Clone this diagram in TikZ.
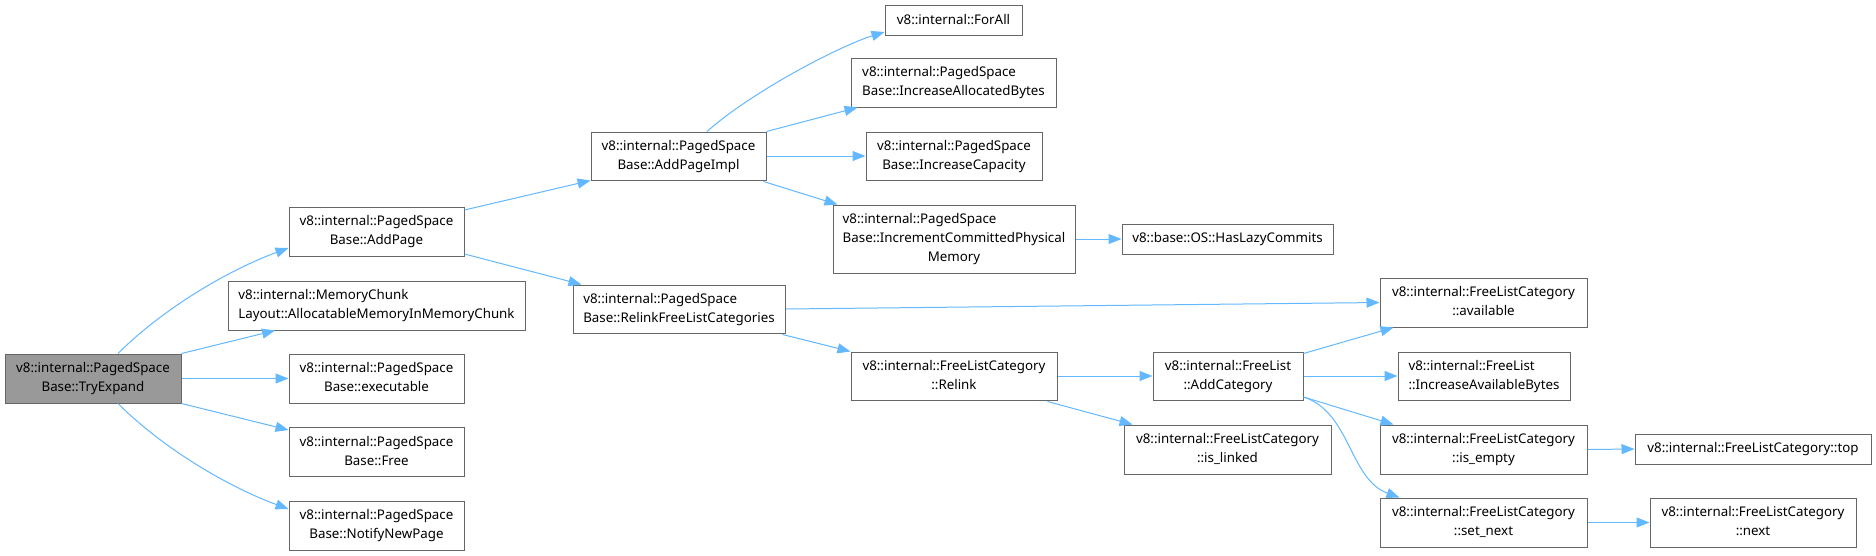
\documentclass[tikz,border=0pt]{standalone}
\usepackage{fontspec}
\setmainfont{Noto Sans}
\usetikzlibrary{arrows.meta,calc}
\definecolor{edgeblue}{HTML}{63B8FF}
\definecolor{boxborder}{HTML}{666666}
\definecolor{rootfill}{HTML}{999999}
\newcommand\lbl[2]{\begin{tabular}{@{}l@{}}#1\\\multicolumn{1}{@{}c@{}}{#2}\end{tabular}}
\tikzset{
  fn/.style={draw=boxborder, line width=1pt, fill=white, rectangle, inner sep=0pt,
    font=\fontsize{13.33}{19}\selectfont, text=black},
  rootfn/.style={fn, fill=rootfill},
  edge/.style={draw=edgeblue, line width=1pt, -{Triangle[length=13pt,width=10pt]}},
}
\begin{document}
\begin{tikzpicture}[x=1pt,y=-1pt]
\useasboundingbox[fill=white] (0,0) rectangle (1876,555);
% nodes
\node[rootfn, minimum width=176, minimum height=49] (te) at (93,378.5) {\lbl{v8::internal::PagedSpace}{Base::TryExpand}};
\node[fn, minimum width=175, minimum height=49] (ap) at (376.5,231.5) {\lbl{v8::internal::PagedSpace}{Base::AddPage}};
\node[fn, minimum width=297, minimum height=49] (mc) at (376.5,305.5) {\lbl{v8::internal::MemoryChunk}{Layout::AllocatableMemoryInMemoryChunk}};
\node[fn, minimum width=175, minimum height=49] (ex) at (376.5,378.5) {\lbl{v8::internal::PagedSpace}{Base::executable}};
\node[fn, minimum width=175, minimum height=49] (fr) at (376.5,452) {\lbl{v8::internal::PagedSpace}{Base::Free}};
\node[fn, minimum width=175, minimum height=49] (nn) at (376.5,525.5) {\lbl{v8::internal::PagedSpace}{Base::NotifyNewPage}};
\node[fn, minimum width=175, minimum height=48] (api) at (678.5,156) {\lbl{v8::internal::PagedSpace}{Base::AddPageImpl}};
\node[fn, minimum width=212, minimum height=48] (rfl) at (679,309) {\lbl{v8::internal::PagedSpace}{Base::RelinkFreeListCategories}};
\node[fn, minimum width=137, minimum height=30] (fa) at (953.5,20) {v8::internal::ForAll};
\node[fn, minimum width=205, minimum height=49] (iab) at (953.5,82.5) {\lbl{v8::internal::PagedSpace}{Base::IncreaseAllocatedBytes}};
\node[fn, minimum width=176, minimum height=48] (ic) at (954,156) {\lbl{v8::internal::PagedSpace}{Base::IncreaseCapacity}};
\node[fn, minimum width=242, minimum height=68] (icp) at (954,239) {\lbl{v8::internal::PagedSpace\\Base::IncrementCommittedPhysical}{Memory}};
\node[fn, minimum width=211, minimum height=30] (hlc) at (1227.5,239) {v8::base::OS::HasLazyCommits};
\node[fn, minimum width=206, minimum height=48] (rl) at (954,376) {\lbl{v8::internal::FreeListCategory}{::Relink}};
\node[fn, minimum width=150, minimum height=48] (ac) at (1228,376) {\lbl{v8::internal::FreeList}{::AddCategory}};
\node[fn, minimum width=207, minimum height=49] (il) at (1227.5,449.5) {\lbl{v8::internal::FreeListCategory}{::is\_linked}};
\node[fn, minimum width=207, minimum height=49] (av) at (1483.5,302.5) {\lbl{v8::internal::FreeListCategory}{::available}};
\node[fn, minimum width=172, minimum height=48] (iavb) at (1484,376) {\lbl{v8::internal::FreeList}{::IncreaseAvailableBytes}};
\node[fn, minimum width=207, minimum height=49] (ie) at (1483.5,449.5) {\lbl{v8::internal::FreeListCategory}{::is\_empty}};
\node[fn, minimum width=207, minimum height=49] (sn) at (1483.5,522.5) {\lbl{v8::internal::FreeListCategory}{::set\_next}};
\node[fn, minimum width=236, minimum height=30] (top) at (1753,449) {v8::internal::FreeListCategory::top};
\node[fn, minimum width=206, minimum height=49] (nx) at (1753,522.5) {\lbl{v8::internal::FreeListCategory}{::next}};
% edges
\draw[edge] ($(te.north)+(25,0)$) .. controls ($(te.north)+(70,-45)$) and ($(ap.west)+(-60,38.5)$) .. ($(ap.west)+(0,16.5)$);
\draw[edge] (te.north east) -- ($(mc.south)+(-101.5,0)$);
\draw[edge] (te.east) -- (ex.west);
\draw[edge] (te.south east) -- ($(fr.west)+(0,-22)$);
\draw[edge] ($(te.south)+(25,0)$) .. controls ($(te.south)+(70,45)$) and ($(nn.west)+(-60,-38.5)$) .. ($(nn.west)+(0,-16.5)$);
\draw[edge] ($(ap.east)+(0,-21.5)$) -- (api.south west);
\draw[edge] ($(ap.east)+(0,22.5)$) -- ($(rfl.north west)+(9,0)$);
\draw[edge] ($(api.north)+(28.5,0)$) .. controls ($(api.north)+(73.5,-40)$) and ($(fa.west)+(-45,26)$) .. ($(fa.west)+(0,12)$);
\draw[edge] (api.north east) -- ($(iab.south west)+(7,0)$);
\draw[edge] (api.east) -- (ic.west);
\draw[edge] ($(api.south east)+(-3,1)$) -- ($(icp.north west)+(5,0)$);
\draw[edge] (icp.east) -- (hlc.west);
\draw[edge] (rfl.east) -- (av.west);
\draw[edge] ($(rfl.south east)+(-3,1)$) -- (rl.north west);
\draw[edge] (rl.east) -- (ac.west);
\draw[edge] ($(rl.south east)+(-10,1)$) -- ($(il.north west)+(9,0)$);
\draw[edge] ($(ac.north east)+(0,2)$) -- ($(av.south west)+(14,0)$);
\draw[edge] (ac.east) -- (iavb.west);
\draw[edge] ($(ac.east)+(0,21)$) -- ($(ie.north west)+(14,0)$);
\draw[edge] ($(ac.east)+(0,21)$) .. controls ($(ac.east)+(47,36)$) and ($(sn.north west)+(-30,-18)$) .. ($(sn.north west)+(20,0)$);
\draw[edge] (ie.east) -- (top.west);
\draw[edge] (sn.east) -- (nx.west);
\end{tikzpicture}
\end{document}
